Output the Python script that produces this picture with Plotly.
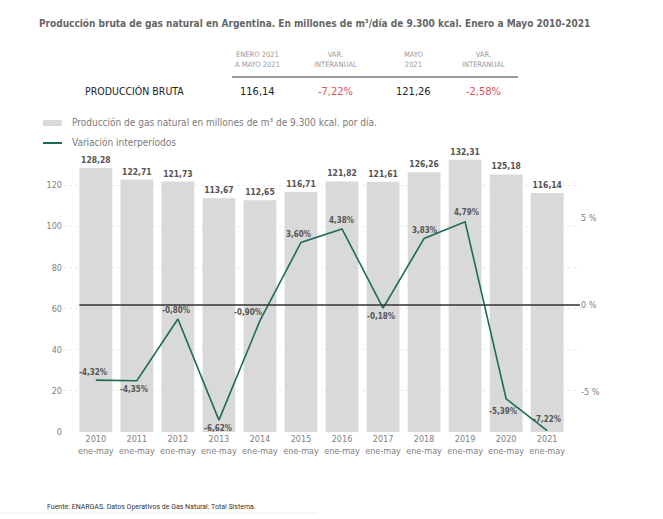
import plotly.graph_objects as go

# ---------------- data ----------------
years = ["2010", "2011", "2012", "2013", "2014", "2015",
         "2016", "2017", "2018", "2019", "2020", "2021"]
period_label = "ene-may"
production = [128.28, 122.71, 121.73, 113.67, 112.65, 116.71,
              121.82, 121.61, 126.26, 132.31, 125.18, 116.14]
variation = [-4.32, -4.35, -0.80, -6.62, -0.90, 3.60,
             4.38, -0.18, 3.83, 4.79, -5.39, -7.22]
left_ticks = [0, 20, 40, 60, 80, 100, 120]
right_ticks = [-5, 0, 5]
right_tick_text = ["-5 %", "0 %", "5 %"]
header_titles = ["ENERO 2021<br>A MAYO 2021", "VAR.<br>INTERANUAL",
                 "MAYO<br>2021", "VAR.<br>INTERANUAL"]
header_values = ["116,14", "-7,22%", "121,26", "-2,58%"]
row_label = "PRODUCCIÓN BRUTA"
title_text = ("Producción bruta de gas natural en Argentina. En millones de m³/día "
              "de 9.300 kcal. Enero a Mayo 2010-2021")
legend_bar = "Producción de gas natural en millones de m³ de 9.300 kcal. por día."
legend_line = "Variación interperíodos"
source_text = "Fuente: ENARGAS. Datos Operativos de Gas Natural: Total Sistema."

# label offsets (style) for line labels, in pixels (dx, dy up)
line_label_shift = [(-3, 8), (-3, -9), (-2, 8), (-1, -8), (-12, 8), (-2, 8),
                    (-1, 8), (-2, -8), (0, 8), (1, 9), (-3, -13), (0, 11)]

# ---------------- layout geometry ----------------
W, H = 663, 519
L, R, T, B = 63, 580, 144, 432


def px(x):
    return (x - L) / (R - L)


def py(y):
    return (B - y) / (B - T)


def fmt(v, pct=False):
    s = f"{v:.2f}".replace(".", ",")
    return s + "%" if pct else s


FONT = "DejaVu Sans Condensed, Roboto, sans-serif"
GREEN = "#1e6b57"
BAR = "#d9d9d9"
RED = "#e0505a"
LABEL = "#555555"
TICK = "#808080"

xcats = [f"{y}<br>{period_label}" for y in years]

fig = go.Figure()
fig.add_trace(go.Bar(
    x=xcats, y=production, marker_color=BAR, marker_line_width=0,
    text=[fmt(v) for v in production], textposition="outside",
    textfont=dict(size=8.5, color=LABEL, family=FONT, weight="bold"),
    cliponaxis=False, showlegend=False, hoverinfo="skip",
))
fig.add_trace(go.Scatter(
    x=xcats, y=variation, yaxis="y2", mode="lines",
    line=dict(color=GREEN, width=1.6), cliponaxis=False,
    showlegend=False, hoverinfo="skip",
))

annotations = []
for i, (c, v) in enumerate(zip(xcats, variation)):
    dx, dy = line_label_shift[i]
    annotations.append(dict(
        x=c, y=v, xref="x", yref="y2", text=fmt(v, True), showarrow=False,
        xshift=dx, yshift=dy, font=dict(size=8, color=LABEL, family=FONT, weight="bold"),
    ))

# title
annotations.append(dict(x=px(314), y=py(23), xref="paper", yref="paper", text=title_text,
                        showarrow=False, xanchor="center", yanchor="middle",
                        font=dict(size=10, color="#666666", family=FONT, weight="bold")))
# header table
col_x = [257, 335, 413, 483]
for cx, t, v in zip(col_x, header_titles, header_values):
    annotations.append(dict(x=px(cx), y=py(60), xref="paper", yref="paper", text=t,
                            showarrow=False, xanchor="center", yanchor="middle",
                            font=dict(size=7.5, color="#9a9a9a", family=FONT)))
    annotations.append(dict(x=px(cx), y=py(91), xref="paper", yref="paper", text=v,
                            showarrow=False, xanchor="center", yanchor="middle",
                            font=dict(size=11, color=RED if "%" in v else "#222222", family=FONT)))
annotations.append(dict(x=px(83), y=py(91), xref="paper", yref="paper", text=row_label,
                        showarrow=False, xanchor="left", yanchor="middle",
                        font=dict(size=10.5, color="#222222", family=FONT)))
# legend
annotations.append(dict(x=px(70), y=py(123), xref="paper", yref="paper", text=legend_bar,
                        showarrow=False, xanchor="left", yanchor="middle",
                        font=dict(size=10, color="#7a7a7a", family=FONT)))
annotations.append(dict(x=px(70), y=py(143), xref="paper", yref="paper", text=legend_line,
                        showarrow=False, xanchor="left", yanchor="middle",
                        font=dict(size=10, color="#7a7a7a", family=FONT)))
# source
annotations.append(dict(x=px(45), y=py(507), xref="paper", yref="paper", text=source_text,
                        showarrow=False, xanchor="left", yanchor="middle",
                        font=dict(size=7, color="#333333", family="Roboto, sans-serif")))

shapes = [
    dict(type="line", xref="paper", yref="paper", x0=px(232), x1=px(518), y0=py(77), y1=py(77),
         line=dict(color="#9a9a9a", width=2)),
    dict(type="rect", xref="paper", yref="paper", x0=px(43), x1=px(62), y0=py(120), y1=py(126),
         fillcolor=BAR, line_width=0),
    dict(type="line", xref="paper", yref="paper", x0=px(43), x1=px(62), y0=py(143), y1=py(143),
         line=dict(color=GREEN, width=2)),
    dict(type="line", xref="x", yref="y2", x0=-0.4, x1=11.8, y0=0, y1=0,
         line=dict(color="#333333", width=1.5)),
    dict(type="line", xref="paper", yref="paper", x0=px(0), x1=px(318), y0=py(513), y1=py(513),
         line=dict(color="#ececec", width=1)),
]

fig.update_layout(
    width=W, height=H, margin=dict(l=L, r=W - R, t=T, b=H - B),
    paper_bgcolor="white", plot_bgcolor="white",
    bargap=0.2, showlegend=False,
    font=dict(family=FONT, color=TICK),
    xaxis=dict(range=[-0.8, 11.8], showgrid=False, zeroline=False, showline=False,
               ticks="", tickangle=0, tickfont=dict(size=9, color=TICK)),
    yaxis=dict(range=[0, 140], tickvals=left_ticks, showgrid=True, gridcolor="#ececec",
               griddash="dot", zeroline=False, showline=False, ticks="",
               tickfont=dict(size=9, color=TICK)),
    yaxis2=dict(range=[-7.30, 9.26], overlaying="y", side="right", tickvals=right_ticks,
                ticktext=right_tick_text, showgrid=False, zeroline=False, showline=False,
                ticks="", tickfont=dict(size=9, color=TICK)),
    annotations=annotations, shapes=shapes,
)

fig.write_html("out.html")
